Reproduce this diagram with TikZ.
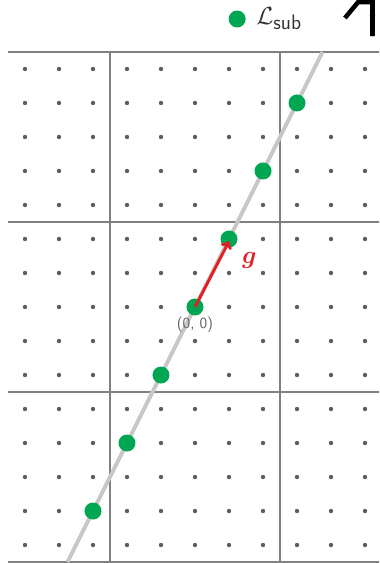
\documentclass[tikz,border=0pt]{standalone}
\usepackage{amsmath,amssymb,amsthm}
\usepackage{tikz}
\usetikzlibrary{arrows.meta, positioning}

\definecolor{subgreen}{RGB}{0,166,81}
\definecolor{gred}{RGB}{228,30,38}
\definecolor{dotgray}{RGB}{95,95,95}

\begin{document}
\begin{tikzpicture}[>=Stealth,
    gridline/.style={black!50, line width=0.9pt},
    latticedot/.style={fill=dotgray},
    subpt/.style={circle, fill=subgreen, inner sep=0pt, minimum size=0.5cm}]
  \useasboundingbox (-5.735,-7.529) rectangle (5.412,9.029);
  \clip (-5.735,-7.529) rectangle (5.412,9.029);

  % block boundaries
  \foreach \y in {-7.5,-2.5,2.5,7.5} {
    \draw[gridline] (-5.5,\y) -- (5.6,\y);
  }
  \foreach \x in {-2.5,2.5} {
    \draw[gridline] (\x,-7.6) -- (\x,7.5);
  }

  % line through the sublattice
  \draw[black!22, line width=3.3pt] (-3.75,-7.5) -- (3.75,7.5);

  % integer lattice
  \foreach \x in {-5,...,5} {
    \foreach \y in {-7,...,7} {
      \fill[latticedot] (\x,\y) circle (0.065);
    }
  }

  % sublattice points
  \foreach \k in {-3,...,3} {
    \node[subpt] (p\k) at (\k,2*\k) {};
  }

  % generator
  \draw[-{Computer Modern Rightarrow[length=6pt, width=10pt]}, gred, line width=2.4pt]
    (p0.center) -- ([yshift=-2pt]p1.center);
  \node[gred, font=\fontsize{20}{22}\selectfont] (glabel) at (1.6,1.38) {$\boldsymbol{g}$};
  \node[dotgray, font=\sffamily\fontsize{13}{15}\selectfont] (orig) at (0,-0.53) {(0, 0)};

  % legend
  \node[subpt] (legdot) at (1.24,8.47) {};
  \node[right=0.3cm of legdot, inner sep=0pt, black!80, font=\fontsize{22}{24}\selectfont]
    (legtext) {$\mathcal{L}$\raisebox{-4pt}{\sffamily\fontsize{17.5}{19}\selectfont sub}};
  \draw[black, line width=3.8pt, line join=miter]
    (4.41,8.5) -- (4.8,8.97) -- (5.22,8.97) -- (5.22,7.97);
  \fill[black] (5.14,8.6) -- (5.3,8.6) -- (5.22,7.95) -- cycle;
\end{tikzpicture}
\end{document}
